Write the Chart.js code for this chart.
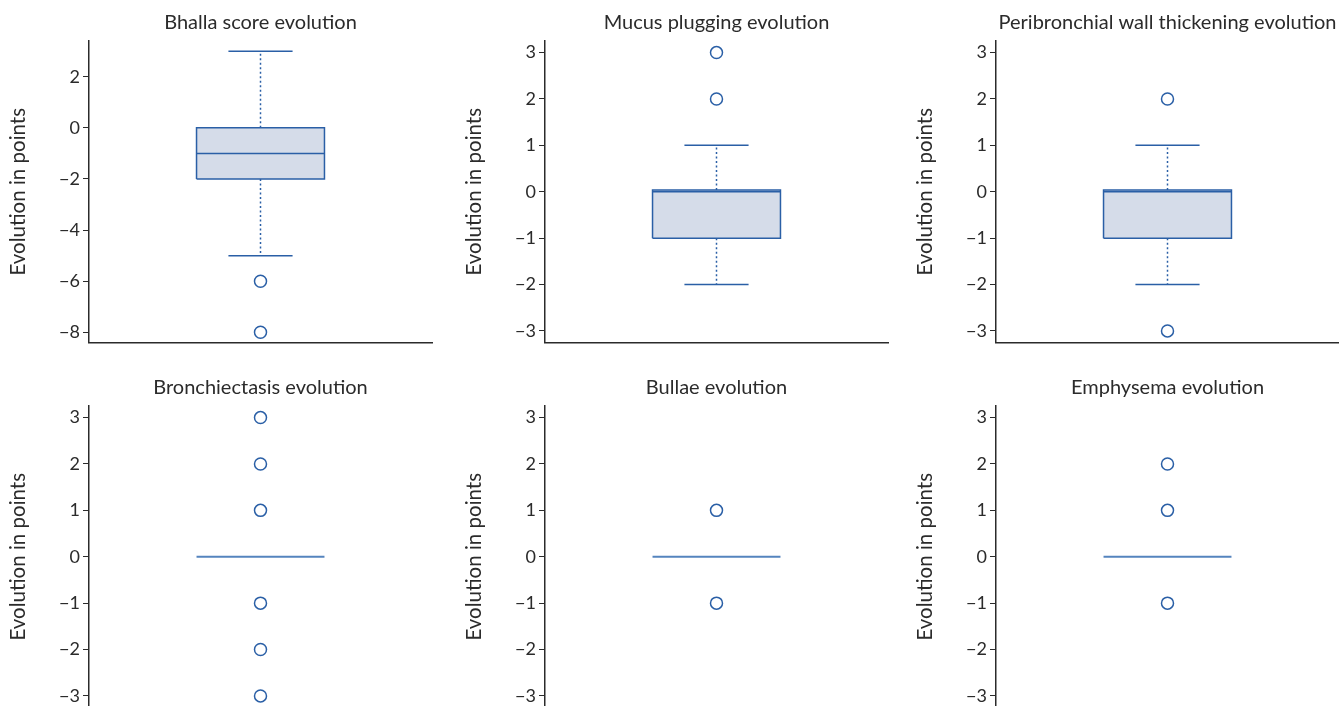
<!DOCTYPE html>
<html>
<head>
<meta charset="utf-8">
<script src="https://cdn.jsdelivr.net/npm/chart.js@4.4.0/dist/chart.umd.min.js"></script>
<style>
  html, body { margin: 0; padding: 0; background: #fff; overflow: hidden; width: 1339px; height: 706px; }
  .panel { position: absolute; }
</style>
</head>
<body>
<script>
// one entry per panel, row by row
const panelTitles = [
    'Bhalla score evolution',
    'Mucus plugging evolution',
    'Peribronchial wall thickening evolution',
    'Bronchiectasis evolution',
    'Bullae evolution',
    'Emphysema evolution'
];
const boxQ1 = [-2, -1, -1, 0, 0, 0];
const boxQ3 = [0, 0.04, 0.04, 0, 0, 0];
const boxMedian = [-1, 0, 0, 0, 0, 0];
const whiskerLow = [-5, -2, -2, 0, 0, 0];
const whiskerHigh = [3, 1, 1, 0, 0, 0];
const outliers = [
    [-6, -8],
    [3, 2],
    [2, -3],
    [3, 2, 1, -1, -2, -3],
    [1, -1],
    [2, 1, -1]
];
const yTicks = [
    [2, 0, -2, -4, -6, -8],
    [3, 2, 1, 0, -1, -2, -3],
    [3, 2, 1, 0, -1, -2, -3],
    [3, 2, 1, 0, -1, -2, -3],
    [3, 2, 1, 0, -1, -2, -3],
    [3, 2, 1, 0, -1, -2, -3]
];
const yLimits = [
    [-8.4, 3.4],
    [-3.25, 3.25],
    [-3.25, 3.25],
    [-3.25, 3.25],
    [-3.25, 3.25],
    [-3.25, 3.25]
];
const yLabel = 'Evolution in points';

const BLUE = '#2a5fa6';
const BLUE_SOFT = '#5584be';
const FILL = '#d5dce9';
const INK = '#2b2b2b';

const AXIS_W = 89;   // room left of the plot for ticks + label
const AREA_W = 343;
const AREA_H = 301;
const TOP_H = 41;    // title band
const BOTTOM_H = 8;  // below the plot (the layout eats a few px of this)
const colLeft = [89, 545, 996];
const rowTop = [0, 365];
const HALF_BOX = 0.373;
const HALF_CAP = 0.187;

Chart.defaults.font.family = 'Lato, "Noto Sans", sans-serif';
Chart.defaults.color = INK;

function seg(x1, y1, x2, y2, extra) {
    return Object.assign({
        data: [{ x: x1, y: y1 }, { x: x2, y: y2 }],
        borderColor: BLUE,
        borderWidth: 1.5,
        pointRadius: 0,
        fill: false
    }, extra || {});
}

panelTitles.forEach(function (title, i) {
    const col = i % 3, row = Math.floor(i / 3);
    const div = document.createElement('div');
    div.className = 'panel';
    div.style.left = (colLeft[col] - AXIS_W) + 'px';
    div.style.top = rowTop[row] + 'px';
    const canvas = document.createElement('canvas');
    canvas.width = AXIS_W * 2 + AREA_W;
    canvas.height = TOP_H + AREA_H + BOTTOM_H;
    div.appendChild(canvas);
    document.body.appendChild(div);

    const q1 = boxQ1[i], q3 = boxQ3[i];
    const flat = q1 === q3;
    const datasets = [
        // fill band between q1 and q3
        { data: [{ x: -HALF_BOX, y: q1 }, { x: HALF_BOX, y: q1 }], borderWidth: 0, pointRadius: 0, fill: false, order: 10 },
        { data: [{ x: -HALF_BOX, y: q3 }, { x: HALF_BOX, y: q3 }], borderWidth: 0, pointRadius: 0,
          fill: { target: 0 }, backgroundColor: FILL, order: 9 },
        seg(-HALF_BOX, boxMedian[i], HALF_BOX, boxMedian[i],
            flat ? { borderColor: BLUE_SOFT, borderWidth: 2, order: 2 } : { order: 2 }),
        {
            data: [
                { x: -HALF_BOX, y: q1 }, { x: HALF_BOX, y: q1 }, { x: HALF_BOX, y: q3 },
                { x: -HALF_BOX, y: q3 }, { x: -HALF_BOX, y: q1 }
            ],
            borderColor: BLUE, borderWidth: 1.5, pointRadius: 0, fill: false, order: 3,
            hidden: flat
        },
        seg(0, q3, 0, whiskerHigh[i], { borderDash: [2, 2.5], order: 4, hidden: flat }),
        seg(0, q1, 0, whiskerLow[i], { borderDash: [2, 2.5], order: 4, hidden: flat }),
        seg(-HALF_CAP, whiskerHigh[i], HALF_CAP, whiskerHigh[i], { order: 4, hidden: flat }),
        seg(-HALF_CAP, whiskerLow[i], HALF_CAP, whiskerLow[i], { order: 4, hidden: flat }),
        {
            data: outliers[i].map(function (v) { return { x: 0, y: v }; }),
            showLine: false,
            pointRadius: 6,
            pointBorderWidth: 1.5,
            pointBorderColor: BLUE,
            pointBackgroundColor: '#fff',
            order: 1
        }
    ];

    new Chart(canvas, {
        type: 'line',
        data: { datasets: datasets },
        options: {
            responsive: false,
            animation: false,
            events: [],
            clip: false,
            layout: { padding: { left: 0, right: 0, top: 0, bottom: 2 } },
            plugins: {
                legend: { display: false },
                tooltip: { enabled: false },
                title: {
                    display: true,
                    text: title,
                    color: INK,
                    font: { size: 20, weight: 'normal', lineHeight: 1.2 },
                    padding: { top: 11, bottom: 6 }
                }
            },
            scales: {
                x: {
                    type: 'linear',
                    min: -1,
                    max: 1,
                    ticks: { display: false },
                    grid: { display: false, drawTicks: false, tickLength: 0 },
                    border: { color: INK, width: 1.5 },
                    afterFit: function (s) { s.height = 0; s.paddingLeft = 0; s.paddingRight = 0; }
                },
                y: {
                    min: yLimits[i][0],
                    max: yLimits[i][1],
                    afterBuildTicks: function (s) {
                        s.ticks = yTicks[i].map(function (v) { return { value: v }; });
                    },
                    afterFit: function (s) { s.width = AXIS_W; s.paddingTop = 0; s.paddingBottom = 0; },
                    ticks: {
                        color: INK,
                        font: { size: 18 },
                        padding: 3,
                        callback: function (v) { return String(v).replace('-', '\u2212'); }
                    },
                    grid: { drawOnChartArea: false, tickLength: 6, tickColor: INK, tickWidth: 1 },
                    border: { color: INK, width: 1.5 },
                    title: {
                        display: true,
                        text: yLabel,
                        color: INK,
                        font: { size: 20.5, lineHeight: 1.2 },
                        padding: { top: 6, bottom: 0 }
                    }
                },
                // empty right-hand spacer so the title centres over the plot
                spacer: {
                    position: 'right',
                    ticks: { display: false },
                    grid: { display: false, drawTicks: false },
                    border: { display: false },
                    afterFit: function (s) { s.width = AXIS_W; s.paddingTop = 0; s.paddingBottom = 0; }
                }
            }
        }
    });
});
</script>
</body>
</html>
